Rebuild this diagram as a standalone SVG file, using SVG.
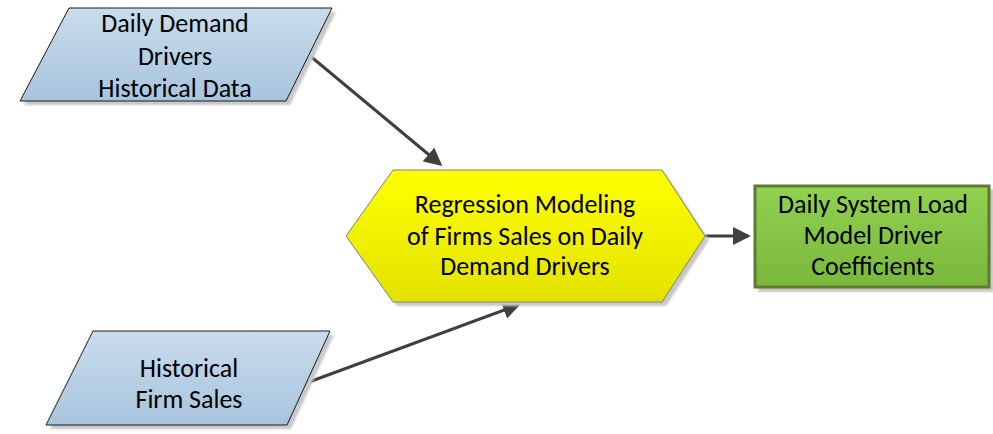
<svg xmlns="http://www.w3.org/2000/svg" width="993" height="434" viewBox="0 0 993 434">
  <defs>
    <linearGradient id="gBlue" x1="0" y1="0" x2="0" y2="1">
      <stop offset="0" stop-color="#c9dcec"/>
      <stop offset="1" stop-color="#a8c4dd"/>
    </linearGradient>
    <linearGradient id="gYellow" x1="0" y1="0" x2="0" y2="1">
      <stop offset="0" stop-color="#ffff00"/>
      <stop offset="1" stop-color="#e2e200"/>
    </linearGradient>
    <linearGradient id="gGreen" x1="0" y1="0" x2="0" y2="1">
      <stop offset="0" stop-color="#92d050"/>
      <stop offset="1" stop-color="#7ab83c"/>
    </linearGradient>
    <filter id="soft" x="-10%" y="-10%" width="120%" height="120%">
      <feGaussianBlur stdDeviation="1.2"/>
    </filter>
    <marker id="arrow" markerWidth="6" markerHeight="6" refX="5" refY="3" orient="auto" markerUnits="strokeWidth">
      <path d="M0,0 L6,3 L0,6 Z" fill="#404040"/>
    </marker>
  </defs>
  <style>
    .label { font-family: "Carlito", "Liberation Sans", "Open Sans", sans-serif; font-size: 26px; fill: #000; text-anchor: middle; }
    .shadow { fill: #c8c8c8; filter: url(#soft); }
    .edge { stroke: #404040; stroke-width: 3; fill: none; marker-end: url(#arrow); }
  </style>

  <!-- connectors -->
  <g id="connectors">
    <line class="edge" x1="309" y1="55" x2="440" y2="164"/>
    <line class="edge" x1="309" y1="382" x2="518" y2="305"/>
    <line class="edge" x1="705" y1="236" x2="748" y2="236"/>
  </g>

  <g id="node-demand-drivers">
    <polygon class="shadow" points="73,12 336,12 290,105 24,105"/>
    <polygon points="69,8 332,8 286,101 20,101" fill="url(#gBlue)" stroke="#1a1a1a" stroke-width="1"/>
    <text class="label" x="175" y="32">Daily Demand</text>
    <text class="label" x="175" y="65">Drivers</text>
    <text class="label" x="175" y="97">Historical Data</text>
  </g>

  <g id="node-firm-sales">
    <polygon class="shadow" points="97,335 334,335 291,429 50,429"/>
    <polygon points="93,331 330,331 287,425 46,425" fill="url(#gBlue)" stroke="#1a1a1a" stroke-width="1"/>
    <text class="label" x="189" y="377">Historical</text>
    <text class="label" x="189" y="408">Firm Sales</text>
  </g>

  <g id="node-regression">
    <polygon class="shadow" points="350,240 397,174 666,174 709,240 666,306 397,306"/>
    <polygon points="346,236 393,170 662,170 705,236 662,302 393,302" fill="url(#gYellow)" stroke="#808080" stroke-width="1"/>
    <text class="label" x="525" y="213">Regression Modeling</text>
    <text class="label" x="525" y="245">of Firms Sales on Daily</text>
    <text class="label" x="525" y="275">Demand Drivers</text>
  </g>

  <g id="node-coefficients">
    <rect class="shadow" x="758" y="189" width="236" height="103"/>
    <rect x="755" y="186" width="234" height="101" fill="url(#gGreen)" stroke="#5f7a30" stroke-width="3"/>
    <text class="label" x="873" y="213">Daily System Load</text>
    <text class="label" x="873" y="244">Model Driver</text>
    <text class="label" x="873" y="275">Coefficients</text>
  </g>
</svg>
